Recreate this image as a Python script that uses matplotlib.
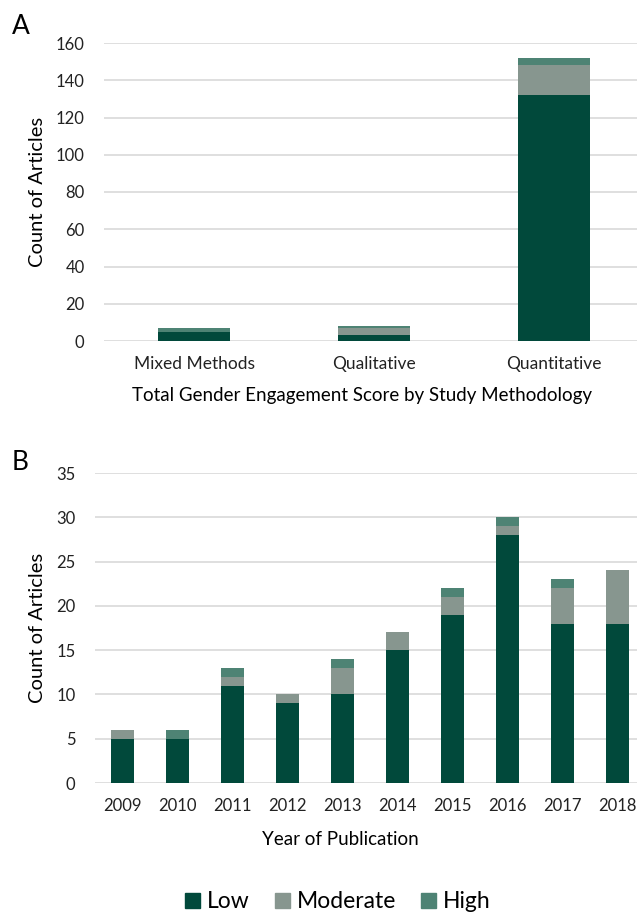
import matplotlib.pyplot as plt
from matplotlib.patches import Patch

plt.rcParams['font.family'] = ['Lato', 'DejaVu Sans']

# Panel A: gender engagement by methodology
methods = ['Mixed Methods', 'Qualitative', 'Quantitative']
a_low = [5, 3, 132]
a_mod = [0, 4, 16]
a_high = [2, 1, 4]

# Panel B: by year of publication
years = ['2009', '2010', '2011', '2012', '2013', '2014', '2015', '2016', '2017', '2018']
b_low = [5, 5, 11, 9, 10, 15, 19, 28, 18, 18]
b_mod = [1, 0, 1, 1, 3, 2, 2, 1, 4, 6]
b_high = [0, 1, 1, 0, 1, 0, 1, 1, 1, 0]

c_low = '#01493B'
c_mod = '#87968F'
c_high = '#4E8374'
grid_c = '#D9D9D9'

W, H = 637, 916
fig = plt.figure(figsize=(W / 100, H / 100), dpi=100)


def stacked(ax, labels, low, mod, high, width):
    x = range(len(labels))
    ax.bar(x, low, width, color=c_low, zorder=3)
    ax.bar(x, mod, width, bottom=low, color=c_mod, zorder=3)
    bot = [l + m for l, m in zip(low, mod)]
    ax.bar(x, high, width, bottom=bot, color=c_high, zorder=3)
    ax.set_xticks(list(x))
    ax.set_xticklabels(labels)
    ax.yaxis.grid(True, color=grid_c, linewidth=1.2, zorder=0)
    ax.set_axisbelow(True)
    for s in ax.spines.values():
        s.set_visible(False)
    ax.tick_params(length=0, labelsize=12, colors='#222222')
    ax.tick_params(axis='y', pad=14)


# panel A axes: x 104..637, y 43..341
axA = fig.add_axes([104 / W, 1 - 341 / H, (637 - 104) / W, (341 - 43) / H])
stacked(axA, methods, a_low, a_mod, a_high, 0.4)
axA.set_ylim(0, 160)
axA.set_yticks(range(0, 161, 20))
axA.set_xlim(-0.5, -0.5 + 3 * (637 - 104) / 540)
axA.tick_params(axis='x', labelsize=12.5, pad=11)
axA.set_ylabel('Count of Articles', fontsize=14.5)
axA.yaxis.set_label_coords((46 - 104) / (637 - 104), 0.5)
axA.set_xlabel('Total Gender Engagement Score by Study Methodology', fontsize=13.5)
axA.xaxis.set_label_coords((362 - 104) / (637 - 104), -0.155)
fig.text(12 / W, 1 - 34 / H, 'A', fontsize=19)

# panel B axes: x 95..637, y 473..783
axB = fig.add_axes([95 / W, 1 - 783 / H, (637 - 95) / W, (783 - 473) / H])
stacked(axB, years, b_low, b_mod, b_high, 0.41)
axB.set_ylim(0, 35)
axB.set_yticks(range(0, 36, 5))
axB.set_xlim(-0.5, -0.5 + 10 * (637 - 95) / 550)
axB.tick_params(axis='x', labelsize=12, pad=11)
axB.set_ylabel('Count of Articles', fontsize=14.5)
axB.yaxis.set_label_coords((46 - 95) / (637 - 95), 0.5)
axB.set_xlabel('Year of Publication', fontsize=13.5)
axB.xaxis.set_label_coords((340 - 95) / (637 - 95), -0.155)
fig.text(12 / W, 1 - 470 / H, 'B', fontsize=19)

handles = [Patch(color=c_low), Patch(color=c_mod), Patch(color=c_high)]
fig.legend(handles, ['Low', 'Moderate', 'High'], loc='center',
           bbox_to_anchor=(338 / W, 1 - 902 / H), ncol=3, frameon=False,
           fontsize=16.5, handlelength=0.65, handleheight=0.65,
           handletextpad=0.3, columnspacing=1.1)

fig.savefig('out.png', dpi=100)
